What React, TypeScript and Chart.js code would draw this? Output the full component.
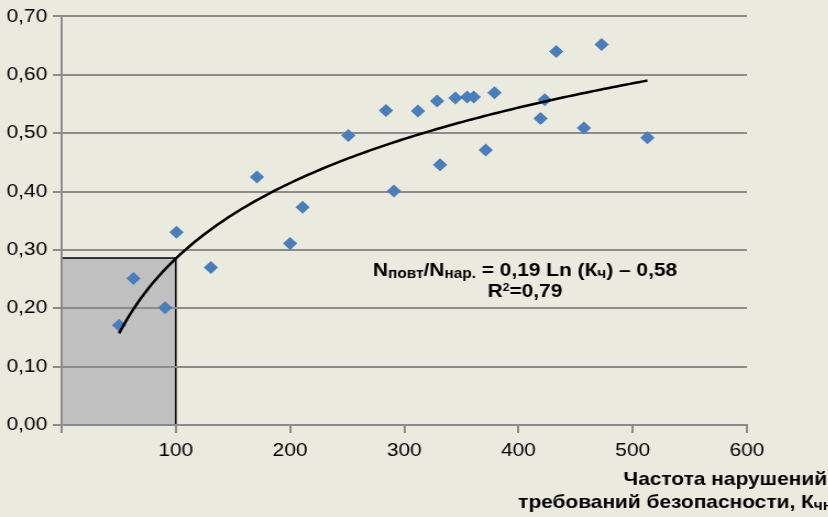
import React, { useEffect, useRef } from 'react';
import { Chart, registerables } from 'chart.js';

Chart.register(...registerables);

// Observed points: frequency of violations (x) vs ratio (y)
const xValues = [50.3, 62.9, 90.6, 100.6, 130.7, 171, 200, 211, 251, 284, 291, 312, 328.7, 331.3, 344.7, 355, 360.8, 371.3, 379, 419.3, 423, 433, 457.3, 472.8, 512.9];
const yValues = [0.171, 0.251, 0.201, 0.330, 0.270, 0.425, 0.311, 0.373, 0.496, 0.539, 0.401, 0.538, 0.555, 0.446, 0.560, 0.562, 0.562, 0.471, 0.569, 0.525, 0.557, 0.640, 0.509, 0.652, 0.492];

// Logarithmic trend line y = A*ln(x) + B, drawn over its shown range
const TREND_A = 0.1865;
const TREND_B = -0.5737;
const TREND_X_START = 50.3;
const TREND_X_END = 512.9;

// Shaded region
const RECT_X = 100;
const RECT_Y = 0.286;

const X_MIN = 0;
const X_MAX = 600;
const X_STEP = 100;
const Y_MIN = 0;
const Y_MAX = 0.7;
const Y_STEP = 0.1;

const EQ_LINE1 = [
  { t: 'N' },
  { t: 'повт', sub: true },
  { t: '/N' },
  { t: 'нар.', sub: true },
  { t: ' = 0,19 Ln (К' },
  { t: 'ч', sub: true },
  { t: ') – 0,58' },
];
const EQ_LINE2 = [{ t: 'R' }, { t: '2', sup: true }, { t: '=0,79' }];
const X_TITLE_1 = [{ t: 'Частота нарушений' }];
const X_TITLE_2 = [{ t: 'требований безопасности, К' }, { t: 'чн', sub: true }];

const FONT_FAMILY = "'Liberation Sans', Arial, sans-serif";
const BG = '#EAEADF';
const GRID = '#8C8C8C';
const POINT_COLOR = '#4A7EBB';

// The picture is stretched horizontally: draw at a narrower width and widen it
const STRETCH = 1.1;
const OUT_W = 828;
const OUT_H = 517;
const CW = Math.round(OUT_W / STRETCH);

type Seg = { t: string; sub?: boolean; sup?: boolean };

function drawRich(ctx: CanvasRenderingContext2D, segs: Seg[], x: number, y: number, align: 'left' | 'center' | 'right', size: number, subSize: number, supSize: number) {
  const fontFor = (s: Seg) => `bold ${s.sub ? subSize : s.sup ? supSize : size}px ${FONT_FAMILY}`;
  let total = 0;
  for (const s of segs) {
    ctx.font = fontFor(s);
    total += ctx.measureText(s.t).width;
  }
  let cx = align === 'center' ? x - total / 2 : align === 'right' ? x - total : x;
  ctx.textAlign = 'left';
  ctx.textBaseline = 'alphabetic';
  ctx.fillStyle = '#000';
  for (const s of segs) {
    ctx.font = fontFor(s);
    const dy = s.sub ? 2 : s.sup ? -6 : 0;
    ctx.fillText(s.t, cx, y + dy);
    cx += ctx.measureText(s.t).width;
  }
}

export default function App() {
  const ref = useRef<HTMLCanvasElement | null>(null);

  useEffect(() => {
    if (!ref.current) return;
    const scatterData = xValues.map((x, i) => ({ x, y: yValues[i] }));
    const trendData: { x: number; y: number }[] = [];
    const n = 120;
    for (let i = 0; i <= n; i++) {
      const x = TREND_X_START + ((TREND_X_END - TREND_X_START) * i) / n;
      trendData.push({ x, y: TREND_A * Math.log(x) + TREND_B });
    }

    const decor = {
      id: 'decor',
      beforeDraw(chart: any) {
        const ctx = chart.ctx as CanvasRenderingContext2D;
        ctx.save();
        ctx.fillStyle = BG;
        ctx.fillRect(0, 0, chart.width, chart.height);
        const xs = chart.scales.x;
        const ys = chart.scales.y;
        const x0 = xs.getPixelForValue(0);
        const x1 = xs.getPixelForValue(RECT_X);
        const yt = ys.getPixelForValue(RECT_Y);
        const yb = ys.getPixelForValue(0);
        ctx.fillStyle = '#C0C0C0';
        ctx.fillRect(x0, yt, x1 - x0, yb - yt);
        ctx.strokeStyle = '#000';
        ctx.lineWidth = 1.5;
        ctx.beginPath();
        ctx.moveTo(x0, yt);
        ctx.lineTo(x1, yt);
        ctx.lineTo(x1, yb);
        ctx.stroke();
        ctx.restore();
      },
      afterDraw(chart: any) {
        const ctx = chart.ctx as CanvasRenderingContext2D;
        ctx.save();
        drawRich(ctx, EQ_LINE1, 525 / STRETCH, 276, 'center', 19, 14, 11);
        drawRich(ctx, EQ_LINE2, 525 / STRETCH, 297, 'center', 19, 14, 11);
        drawRich(ctx, X_TITLE_1, 827 / STRETCH, 485, 'right', 19, 14, 11);
        drawRich(ctx, X_TITLE_2, 832 / STRETCH, 508, 'right', 19, 14, 11);
        ctx.restore();
      },
    };

    const chart = new Chart(ref.current, {
      type: 'scatter',
      data: {
        datasets: [
          {
            label: 'trend',
            data: trendData,
            showLine: true,
            borderColor: '#000',
            borderWidth: 2.5,
            pointRadius: 0,
            fill: false,
            order: 0,
          } as any,
          {
            label: 'data',
            data: scatterData,
            pointStyle: 'rectRot',
            pointRadius: 6.5,
            pointHoverRadius: 6.5,
            backgroundColor: POINT_COLOR,
            borderColor: POINT_COLOR,
            borderWidth: 0,
            order: 1,
          } as any,
        ],
      },
      options: {
        animation: false,
        responsive: false,
        devicePixelRatio: 1,
        layout: { padding: { left: 0, right: CW - Math.round(747 / STRETCH), top: 15, bottom: 0 } },
        plugins: { legend: { display: false }, tooltip: { enabled: false } },
        scales: {
          x: {
            type: 'linear',
            min: X_MIN,
            max: X_MAX,
            afterFit: (s: any) => {
              s.height = 92;
            },
            ticks: {
              stepSize: X_STEP,
              color: '#000',
              padding: 6,
              font: { family: FONT_FAMILY, size: 19 },
              callback: (v: any) => (v === 0 ? '' : String(v)),
            },
            grid: { drawOnChartArea: false, drawTicks: true, tickLength: 8, color: GRID, lineWidth: 2 },
            border: { display: true, color: GRID, width: 2 },
          },
          y: {
            type: 'linear',
            min: Y_MIN,
            max: Y_MAX,
            afterFit: (s: any) => {
              s.width = Math.round(62 / STRETCH);
            },
            ticks: {
              stepSize: Y_STEP,
              color: '#000',
              padding: 5,
              font: { family: FONT_FAMILY, size: 19 },
              callback: (v: any) => Number(v).toFixed(2).replace('.', ','),
            },
            grid: { drawTicks: true, tickLength: 8, color: GRID, lineWidth: 2 },
            border: { display: true, color: GRID, width: 2 },
          },
        },
      },
      plugins: [decor],
    });
    return () => chart.destroy();
  }, []);

  return (
    <div style={{ position: 'absolute', left: 0, top: 0, width: OUT_W, height: OUT_H, background: BG, overflow: 'hidden' }}>
      <div style={{ width: CW, height: OUT_H, transform: `scaleX(${STRETCH})`, transformOrigin: '0 0' }}>
        <canvas ref={ref} width={CW} height={OUT_H} style={{ display: 'block', width: CW, height: OUT_H }} />
      </div>
    </div>
  );
}
